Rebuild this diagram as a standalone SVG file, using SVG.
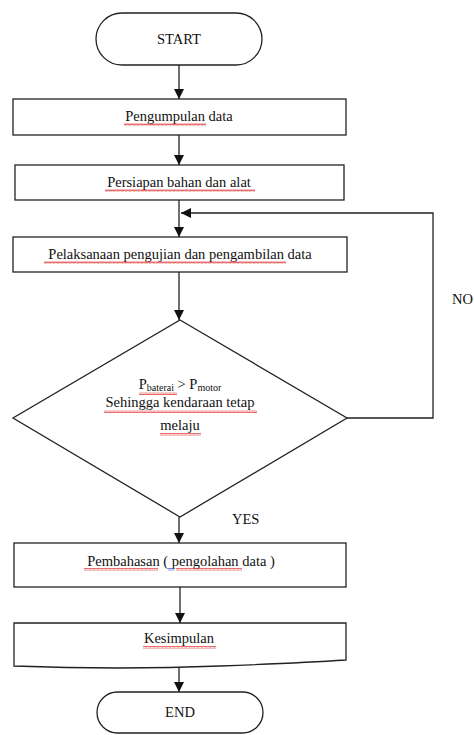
<svg xmlns="http://www.w3.org/2000/svg" width="474" height="735" viewBox="0 0 474 735">
<style>
.s{fill:#fff;stroke:#222;stroke-width:1.3}
.c{fill:none;stroke:#222;stroke-width:1.3}
text{font-family:'Liberation Serif','DejaVu Serif',serif;font-size:14.5px;fill:#111}
.m{text-anchor:middle}
.sub{font-size:10px}
.sq{fill:url(#wav)}
.sqb{fill:url(#wavb)}
</style>
<defs>
<marker id="ah" viewBox="0 0 10 10" refX="10" refY="5" markerWidth="10" markerHeight="10" markerUnits="userSpaceOnUse" orient="auto">
<path d="M0,0 L10,5 L0,10 z" fill="#111"/>
</marker>
<pattern id="wav" width="4" height="3" patternUnits="userSpaceOnUse">
<path d="M0,2.5 L1,0.5 L2,2.5 L3,0.5 L4,2.5" fill="none" stroke="#e03030" stroke-width="0.7"/>
</pattern>
<pattern id="wavb" width="4" height="3" patternUnits="userSpaceOnUse">
<path d="M0,2.5 L1,0.5 L2,2.5 L3,0.5 L4,2.5" fill="none" stroke="#3050d0" stroke-width="0.7"/>
</pattern>
</defs>

<g id="connectors">
<line class="c" x1="179" y1="65" x2="179" y2="99" marker-end="url(#ah)"/>
<line class="c" x1="179" y1="135" x2="179" y2="165" marker-end="url(#ah)"/>
<line class="c" x1="179" y1="200" x2="179" y2="237" marker-end="url(#ah)"/>
<line class="c" x1="179" y1="272" x2="179" y2="320" marker-end="url(#ah)"/>
<polyline class="c" points="347,418 433,418 433,213 181,213" marker-end="url(#ah)"/>
<line class="c" x1="179" y1="517" x2="179" y2="543" marker-end="url(#ah)"/>
<line class="c" x1="180" y1="587" x2="180" y2="623" marker-end="url(#ah)"/>
<line class="c" x1="179" y1="667" x2="179" y2="692" marker-end="url(#ah)"/>
<text x="452" y="304">NO</text>
<text x="232" y="524">YES</text>
</g>

<g id="start">
<rect class="s" x="96" y="13" width="166" height="52" rx="26"/>
<text class="m" x="179" y="44">START</text>
</g>

<g id="pengumpulan">
<rect class="s" x="13" y="99" width="333" height="36"/>
<text class="m" x="179" y="121">Pengumpulan data</text>
<rect class="sq" x="124" y="123" width="82" height="3"/>
</g>

<g id="persiapan">
<rect class="s" x="15" y="165" width="329" height="35"/>
<text class="m" x="179" y="187">Persiapan bahan dan alat</text>
<rect class="sq" x="105" y="189" width="150" height="3"/>
</g>

<g id="pelaksanaan">
<rect class="s" x="13" y="237" width="334" height="35"/>
<text class="m" x="180" y="259">Pelaksanaan pengujian dan pengambilan data</text>
<rect class="sq" x="44" y="261" width="242" height="3"/>
</g>

<g id="keputusan">
<polygon class="s" points="180,320 347,418 180,517 13,418"/>
<text class="m" x="180" y="389">P<tspan class="sub" dy="1.5">baterai</tspan><tspan dy="-1.5"> &gt; P</tspan><tspan class="sub" dy="1.5">motor</tspan></text>
<rect class="sq" x="139" y="392" width="38" height="3"/>
<text class="m" x="180" y="407">Sehingga kendaraan tetap</text>
<rect class="sq" x="104" y="410" width="153" height="3"/>
<text class="m" x="180" y="430">melaju</text>
<rect class="sq" x="160" y="433" width="41" height="3"/>
</g>

<g id="pembahasan">
<rect class="s" x="14" y="543" width="332" height="44"/>
<text class="m" x="181" y="566">Pembahasan ( pengolahan data )</text>
<rect class="sq" x="84" y="568" width="74" height="3"/>
<rect class="sqb" x="168" y="568" width="6" height="3"/>
<rect class="sq" x="176" y="568" width="66" height="3"/>
</g>

<g id="kesimpulan">
<path class="s" d="M14,623 H346 V660 Q300,663 220,666 Q120,670 14,666 Z"/>
<text class="m" x="179" y="643">Kesimpulan</text>
<rect class="sq" x="143" y="646" width="73" height="3"/>
</g>

<g id="end">
<rect class="s" x="97" y="692" width="166" height="41" rx="20.5"/>
<text class="m" x="180" y="717">END</text>
</g>
</svg>
